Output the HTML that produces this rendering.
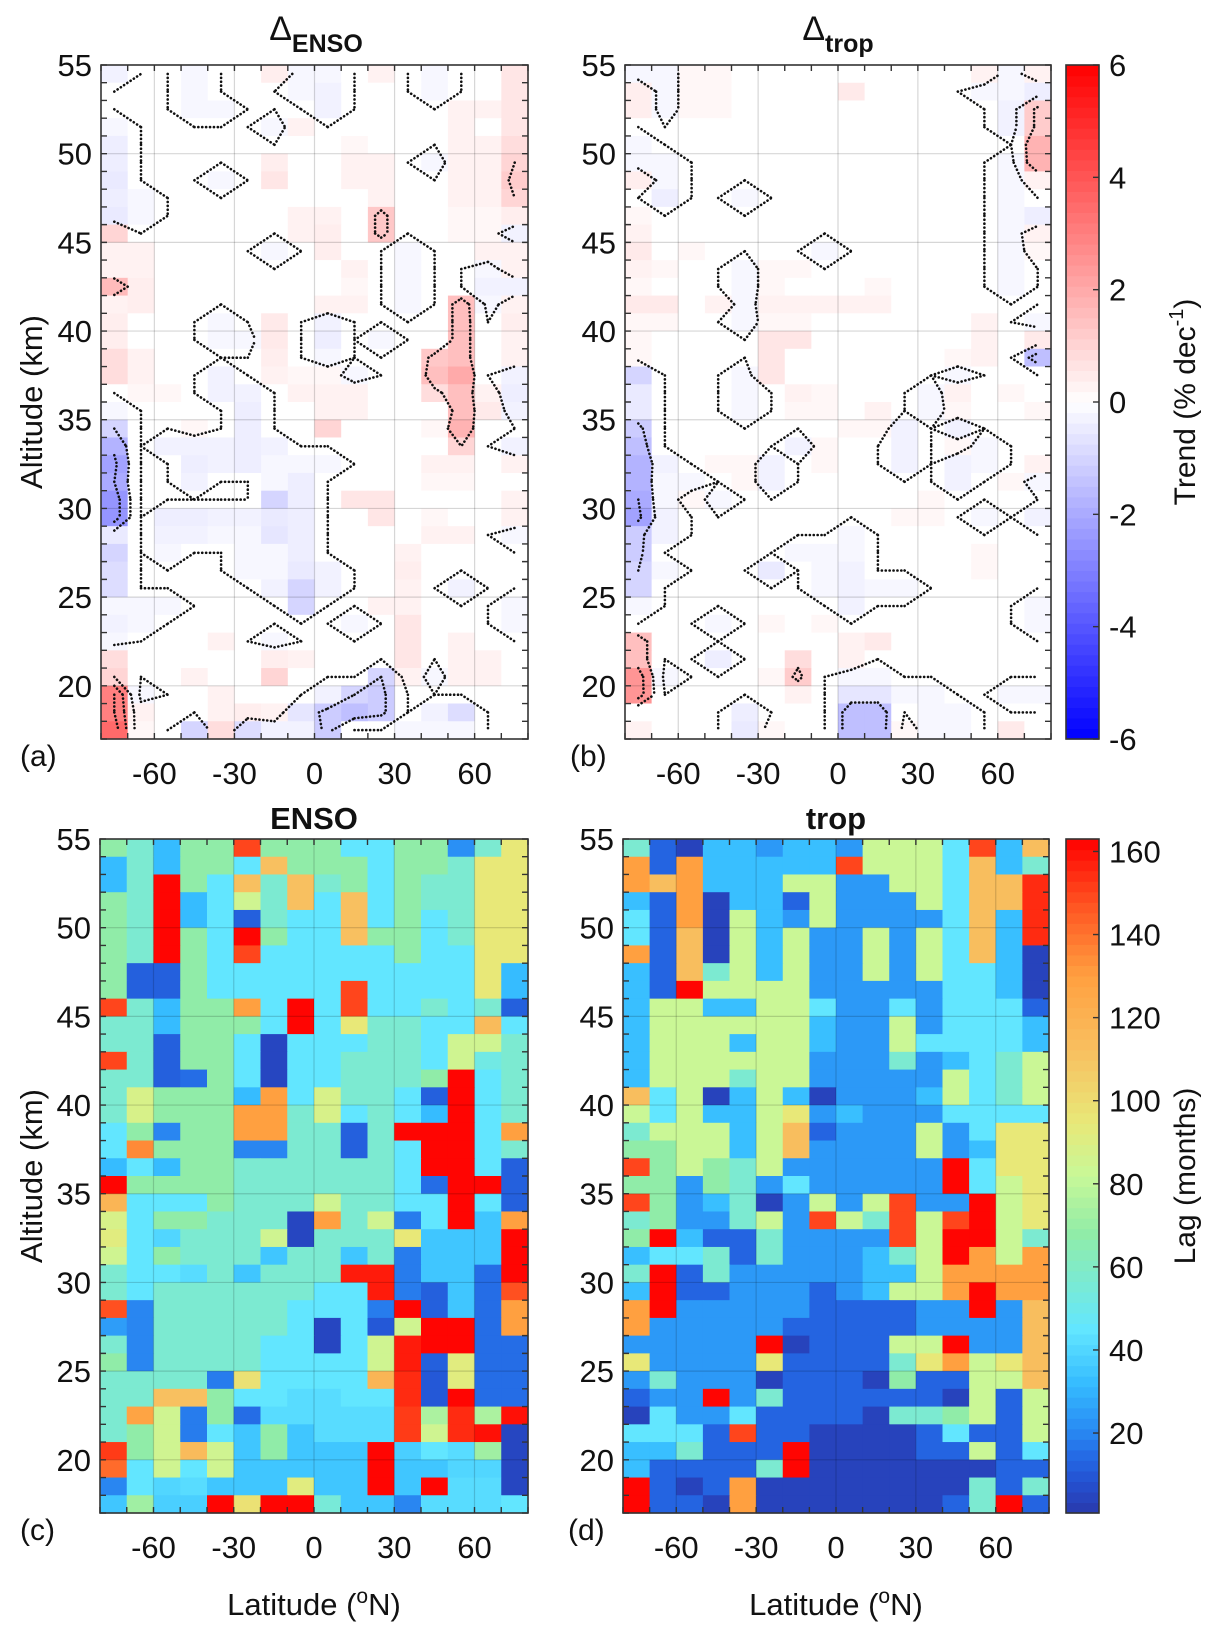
<!DOCTYPE html>
<html><head><meta charset="utf-8"><title>Trend and lag panels</title>
<style>
html,body{margin:0;padding:0;background:#fff;}
svg{display:block;font-family:"Liberation Sans",Arial,sans-serif;}
</style></head>
<body>
<svg id="fig" xmlns="http://www.w3.org/2000/svg" width="1221" height="1631" viewBox="0 0 1221 1631"></svg>
<script>
// ---- axis data ----
const latEdges = [-80,-70,-60,-50,-40,-30,-20,-10,0,10,20,30,40,50,60,70,80];
const altTop = 55, altBottom = 17;
const latTicks = [-60,-30,0,30,60];
const altTicks = [20,25,30,35,40,45,50,55];
const trendTicks = [-6,-4,-2,0,2,4,6];
const lagTicks = [20,40,60,80,100,120,140,160];
const contourLevels = [-2,-1,0,1,2,3];

// ---- Δ_ENSO trend (% dec^-1), rows from 55 km down to 17 km ----
const trendENSO = [
[-0.3,0,0,-0.2,0,0,0.4,-0.2,-0.2,0,0.3,0,-0.2,0,0,0.6],
[0,0,0,-0.2,0,0,0,-0.2,-0.3,0,0,0,-0.2,0,0,0.6],
[0,0,0,-0.2,-0.2,0,0,0,-0.3,0,0,0,0,0.3,0.3,0.6],
[-0.2,0,0,0,0,0,-0.2,0.3,0,0,0,0,0,0.3,0,0.6],
[-0.4,0,0,0,0,0,0,0,0,0.2,0,0,0,0.3,0.3,0.8],
[-0.4,0,0,0,0,0,0.4,0,0,0.3,0.3,0,-0.2,0.3,0.3,1.0],
[-0.5,0,0,0,-0.2,0,0.6,0,0,0.3,0.3,0,0,0.3,0.3,1.2],
[-0.4,-0.2,0,0,0,0,0,0,0,0,0.3,0,0,0.3,0.3,1.0],
[-0.5,-0.2,0,0,0,0,0,0.3,0.3,0,1.3,0,0,0.2,0.2,0.4],
[1.0,0,0,0,0,0,0,0.3,0.4,0,1.3,0,0,0.2,0.2,-0.3],
[0.3,0.3,0,0,0,0,-0.2,0,0.4,0,0,-0.2,0,0,0.3,0.3],
[0.3,0.3,0,0,0,0,0,0,0,0.3,0,-0.2,0,0,-0.2,0.3],
[1.6,0.4,0,0,0,0,0,0,0,0.2,0,-0.2,0,0,-0.3,-0.3],
[0.3,0.4,0,0,0,0,0,0,0.3,0.3,0,-0.2,0,1.5,-0.2,0.3],
[0.4,0,0,0,-0.2,0,0.5,0,-0.3,0,0,0,0,1.5,0,0.4],
[0.4,0,0,0,-0.2,-0.2,0.5,0,-0.4,0,-0.2,0,0,1.5,0,0.3],
[0.8,0.3,0,0,0,0,0.4,0,-0.2,0,0,0,1.3,1.5,0,0.3],
[0.8,0.3,0,0,-0.3,0,0.3,0.2,0.2,-0.2,0,0,1.5,2.0,0,-0.3],
[0,0.2,0.2,0,-0.3,-0.3,0,0.3,0.3,0.3,0,0,0.8,1.5,0.3,-0.4],
[-0.2,0,0,0,0,-0.4,0,0,0.3,0.3,0,0,0,1.5,0.5,-0.3],
[-1.0,0,0,0.2,0,-0.4,0,0,1.0,0,0,0,0.2,1.8,0,0],
[-1.8,0,-0.3,-0.3,-0.3,-0.4,-0.3,0,0,0,0,0,0,1.0,0,-0.3],
[-2.2,0,0,-0.4,-0.3,-0.4,-0.2,-0.2,-0.2,0,0,0,0.3,0.3,0,0.3],
[-2.0,0,0,-0.3,0,0,-0.2,-0.4,0,0,0,0,0.2,0.2,0,0],
[-2.5,0,0,0,0,0,-1.0,-0.4,0,0.6,0.6,0,0,0,0,0.3],
[-2.5,0,-0.4,-0.4,-0.3,-0.3,-0.5,-0.4,0,0,0.6,0,0.2,0,0,0.3],
[-0.5,0,-0.3,-0.3,-0.2,-0.2,-0.6,-0.4,0,0,0,0,0.3,0.3,0,-0.2],
[-1.0,0,-0.2,0,0,-0.2,-0.2,-0.4,0,0,0,0.3,0,0,0,0],
[-0.8,0,0,0,0,-0.2,-0.2,-0.5,-0.3,0,0,0.4,0,0,0,0],
[-0.8,0,0,0,0,0,-0.3,-1.0,-0.3,0,0,0.3,0,-0.3,0,0],
[-0.2,-0.2,-0.2,0,0,0,0,-1.0,0,0,0.3,0.3,0,0,0,-0.2],
[-0.3,-0.2,0,0,0,0,0,0,0,-0.2,0,0.6,0,0,0,-0.2],
[-0.2,0,0,0,0.3,0,-0.2,0,0,0,0,0.6,0,0.3,0,0],
[0.8,0,0,0,0,0,0.4,0.3,0,0,0,0.6,0,0.3,0.3,0],
[1.0,0,0,0.3,0,0,1.0,0,0,0,-1.0,0.3,-0.2,0.3,0.3,0],
[3.0,-0.2,0,0,0.3,0,0,0,-0.3,-1.0,-1.2,0,0,0,0,0],
[3.0,0.3,0,0,0.3,0.4,0.3,-0.6,-1.2,-1.5,-1.2,0,-0.3,-0.8,0,0],
[3.5,0.2,0,-1.0,0.8,-0.8,-0.3,-0.3,-1.2,0,0,-0.2,-0.2,-0.2,0,0]
];

// ---- Δ_trop trend ----
const trendTrop = [
[-0.2,-0.2,0.2,0.2,0,0,0,0,0,0,0,0,0,0.3,-0.2,0.3],
[0.4,-0.2,0.2,0.2,0,0,0,0,0.5,0,0,0,0,-0.2,-0.2,-0.4],
[0.4,-0.2,0.2,0.2,0,0,0,0,0,0,0,0,0,0,-0.3,1.2],
[0,0,0,0,0,0,0,0,0,0,0,0,0,0,-0.3,1.2],
[-0.2,0,0,0,0,0,0,0,0,0,0,0,0,0,0,1.8],
[-0.2,-0.2,0,0,0,0,0,0,0,0,0,0,0,0,-0.2,1.8],
[0.4,-0.2,0,0,0,0,0,0,0,0,0,0,0,0,-0.2,0.3],
[0,-0.4,0,0,-0.2,0,0,0,0,0,0,0,0,0,-0.2,0],
[0.2,0,0,0,0,0,0,0,0,0,0,0,0,0,-0.2,-0.4],
[0.3,0,0,0,0,0,0,0,0,0,0,0,0,0,-0.2,0.3],
[0.5,0,0.2,0,0,0,0,-0.2,0,0,0,0,0,0,-0.2,0.2],
[0.3,0.2,0,0,-0.2,0.2,0.2,0,0,0,0,0,0,0,-0.2,0],
[0.2,0,0,0,-0.2,0.2,0,0,0,0.2,0,0,0,0,-0.2,0],
[0.5,0.5,0,0.3,-0.2,0.3,0.3,0.3,0.3,0.3,0,0,0,0,0,0],
[0.2,0.2,0,0,-0.2,0.2,0.2,0,0,0,0,0,0,0.3,0,-0.2],
[0.2,0,0,0,0,0.6,0.6,0,0,0,0,0,0,0.3,0,0.5],
[0.2,0,0,0,0,0.6,0,0,0,0,0,0,0.2,0.3,0,-1.5],
[-1.0,0,0,0,-0.2,0.6,0,0,0,0,0,0,-0.2,0,0,0],
[-0.5,0,0,0,-0.2,0,0.3,0.2,0,0,0,-0.2,0.3,0,0.2,0],
[-0.5,0,0,0,-0.2,0,0.2,0.2,0,0.3,0,-0.2,0.2,0,0,0.2],
[-1.2,0,0,0,0,0,0,0,0.2,0.2,-0.3,0,-0.3,0,0,0],
[-1.5,0,0,0,0,0,-0.3,0.2,0,0,-0.3,0,0.2,-0.2,0,0],
[-1.8,-0.3,0,0.2,0.2,-0.3,0,0.2,0,0,-0.3,0,-0.3,-0.2,0,0.3],
[-1.8,-0.2,-0.2,0,0.2,-0.3,0,0,0,0,0,0,-0.3,0,0.2,-0.2],
[-2.0,-0.2,0.2,-0.2,0,0,0,0,0,0,0,0.2,0,0,0,0],
[-2.2,-0.3,0,0,0,0,0,0,0,0,0.2,0.2,0,-0.2,0,-0.3],
[-1.2,-0.3,0,0,0,0,0,0,-0.2,0,0,0,0,0,0,0],
[-1.2,0,0,0,0,0,-0.2,-0.2,-0.2,0,0,0,0,0.2,0,0],
[-1.0,-0.2,0,0,0,-0.5,0,-0.2,-0.3,0,0,0,0,0.2,0,0],
[-1.0,0,0,0,0,0,0,-0.2,-0.3,-0.2,-0.2,0,0,0,0,0],
[-0.2,0,0,0,0,0,0,0,-0.3,0,0,0,0,0,0,-0.2],
[0,0,0,-0.2,0,0.2,0,0.2,0,0,0,0,0,0,0,-0.2],
[1.5,0,0,0,0,0,0,0,0.3,0.5,0,0,0,0,0,0],
[1.5,0,0,-0.4,0,0,0.8,0,0.3,0,0,0,0,0,0,0],
[2.5,-0.2,0,0,0,0.2,1.2,0,-0.2,-0.2,0,0,0,0,0,0],
[2.5,0,0,0,0,0,0.3,0,-0.6,-0.6,-0.2,-0.2,0,0,-0.2,-0.2],
[0,0,0,0,-0.4,0,0,0,-1.5,-1.5,0,-0.2,-0.2,0,0,0],
[0.3,0,0,0,-0.5,0.2,0,0,-1.5,-1.5,0.2,-0.2,-0.2,0,0.5,0]
];

// ---- ENSO lag (months) ----
const lagENSO = [
[68,57,32,68,68,150,68,68,68,45,45,68,68,22,57,95],
[32,57,32,68,68,45,112,68,68,68,45,68,68,57,95,95],
[32,57,162,68,45,112,57,112,57,68,45,68,57,57,95,95],
[68,57,162,32,45,85,57,112,45,112,45,68,57,57,95,95],
[68,57,162,32,45,12,57,45,45,112,45,68,45,57,95,95],
[68,57,162,68,45,162,68,45,45,112,68,68,45,57,95,95],
[68,57,162,68,45,150,45,45,45,45,45,68,45,45,95,95],
[68,12,12,68,45,45,45,45,45,45,45,45,45,45,95,32],
[68,12,12,68,45,45,45,45,45,150,45,45,45,45,95,32],
[150,57,32,68,68,130,45,162,45,150,45,45,57,45,57,12],
[57,57,32,68,68,68,45,162,45,95,57,57,45,45,115,45],
[57,57,12,68,68,45,5,45,45,45,57,57,45,85,85,57],
[150,57,12,68,68,45,5,45,45,57,57,57,45,85,52,57],
[57,57,12,15,68,45,5,45,45,57,57,57,68,162,45,57],
[57,88,68,68,68,32,130,45,88,57,57,45,12,162,45,57],
[57,88,68,68,68,130,130,57,88,45,57,45,32,162,45,57],
[45,68,20,68,68,130,130,57,57,12,57,162,162,162,45,130],
[45,135,68,68,68,20,20,57,57,12,57,45,162,162,45,57],
[32,45,32,68,68,57,57,57,57,57,57,45,162,162,45,12],
[162,68,68,68,68,57,57,57,57,57,57,45,15,162,162,12],
[118,45,45,45,68,57,57,57,85,57,57,45,45,162,45,12],
[88,45,68,68,57,57,57,5,130,57,85,18,45,162,35,130],
[92,45,40,57,57,57,85,5,57,57,57,95,35,35,35,162],
[85,45,68,57,57,57,35,57,57,35,57,18,35,35,35,162],
[57,45,45,42,57,35,57,57,57,158,158,18,35,35,15,162],
[57,45,57,57,57,57,57,57,45,45,158,18,12,35,15,148],
[148,20,57,57,57,57,57,45,45,45,18,162,12,35,15,130],
[25,20,57,57,57,57,57,45,5,45,10,85,162,162,15,130],
[57,20,57,57,57,57,45,45,5,45,85,158,162,162,15,15],
[68,20,57,57,57,57,45,45,45,45,85,158,12,92,15,15],
[57,57,57,57,18,98,45,45,45,45,118,155,10,92,15,15],
[57,57,112,112,68,45,45,42,42,45,45,155,10,162,15,15],
[57,128,85,18,68,15,42,42,42,42,42,152,75,155,75,160],
[57,68,85,18,45,35,68,35,42,42,42,152,85,155,160,5],
[152,68,85,115,85,35,68,35,35,35,162,38,45,42,72,5],
[142,45,85,45,85,35,35,35,35,35,162,35,35,40,40,5],
[20,45,40,42,35,35,35,92,35,35,162,35,162,42,42,5],
[35,72,38,38,162,98,162,162,55,35,35,20,42,42,42,45]
];

// ---- trop lag (months) ----
const lagTrop = [
[57,13,4,33,33,24,33,33,24,83,83,83,45,150,33,113],
[130,13,130,33,33,33,33,33,150,83,83,83,45,113,33,57],
[130,113,130,33,33,33,83,83,24,24,83,83,45,113,113,155],
[33,13,130,4,33,33,13,83,24,24,24,83,45,113,113,155],
[45,13,130,4,83,33,24,83,24,24,24,24,45,113,33,155],
[45,13,113,4,83,33,83,24,24,83,24,83,45,113,33,155],
[130,13,113,4,83,33,83,24,24,83,24,83,45,113,33,4],
[33,13,113,57,83,33,83,24,24,83,24,83,45,45,33,4],
[33,13,162,83,83,83,83,24,24,24,24,24,45,45,33,4],
[33,83,83,33,33,83,83,45,24,24,45,24,45,45,45,13],
[33,83,83,83,83,83,83,33,24,24,83,24,45,45,45,33],
[33,83,83,83,33,83,83,33,24,24,83,45,45,45,45,33],
[33,83,83,83,83,83,83,24,24,24,57,24,33,45,57,83],
[33,83,83,83,57,83,83,24,24,24,24,24,83,45,57,83],
[113,45,83,4,33,83,33,4,24,24,24,33,83,45,57,83],
[83,45,83,33,33,83,95,24,33,24,24,24,45,45,45,45],
[57,83,83,83,33,83,113,13,24,24,24,83,24,45,95,95],
[68,68,83,83,33,83,113,24,24,24,24,83,24,33,95,95],
[150,68,83,68,57,83,24,24,24,24,24,24,162,45,95,95],
[68,68,24,68,57,24,45,24,24,24,24,24,162,45,83,95],
[150,68,24,33,57,4,24,83,24,83,150,24,24,162,83,95],
[57,68,24,24,57,83,24,150,83,57,150,83,150,162,83,95],
[68,162,33,13,13,57,24,24,24,24,150,83,162,162,83,57],
[33,45,45,57,13,57,24,24,24,33,57,83,162,130,83,130],
[57,162,13,57,24,24,24,24,24,33,33,83,130,130,130,130],
[33,162,13,13,24,24,24,13,24,33,83,83,130,162,130,130],
[130,162,24,24,24,24,24,13,13,13,13,24,24,162,24,113],
[130,24,24,24,24,24,13,13,13,13,13,24,24,24,24,113],
[24,24,24,24,24,162,4,13,13,13,83,83,162,24,24,113],
[95,24,24,24,24,95,13,13,13,13,57,95,130,83,95,113],
[24,57,24,24,24,4,13,13,13,4,68,13,13,83,83,113],
[13,24,24,162,24,57,13,13,13,13,13,13,4,83,13,83],
[4,45,24,24,45,13,13,13,13,4,57,57,68,83,13,83],
[45,45,45,13,150,13,13,4,4,4,4,13,45,13,13,83],
[33,33,57,13,13,13,162,4,4,4,4,13,13,83,13,45],
[33,13,13,13,13,57,162,4,4,4,4,4,4,4,13,13],
[162,13,4,13,130,4,4,4,4,4,4,4,4,57,13,57],
[162,13,13,4,130,4,4,4,4,4,4,4,13,57,162,13]
];

const NS = "http://www.w3.org/2000/svg";
const svg = document.getElementById("fig");
function mk(tag, attrs, parent) {
  const e = document.createElementNS(NS, tag);
  for (const k in attrs) e.setAttribute(k, attrs[k]);
  (parent || svg).appendChild(e);
  return e;
}

const lagStops = [[0,[42,54,168]],[8,[36,80,208]],[14,[36,104,228]],[22,[42,144,245]],[32,[54,188,255]],[45,[98,230,255]],[55,[120,234,216]],[68,[144,236,168]],[82,[200,248,152]],[95,[232,232,120]],[112,[248,192,96]],[130,[255,160,64]],[148,[255,80,32]],[163,[255,0,0]]];
function lagColor(v){
  if (v <= lagStops[0][0]) return "rgb("+lagStops[0][1].join(",")+")";
  for (let i=1;i<lagStops.length;i++){
    if (v <= lagStops[i][0]){
      const a=lagStops[i-1], b=lagStops[i], t=(v-a[0])/(b[0]-a[0]);
      return "rgb("+a[1].map((c,j)=>Math.round(c+(b[1][j]-c)*t)).join(",")+")";
    }
  }
  return "rgb(255,0,0)";
}
function trendColor(v){
  const t = Math.max(-1, Math.min(1, v/6));
  if (t >= 0) { const g = Math.round(255*(1-t)); return "rgb(255,"+g+","+g+")"; }
  const g = Math.round(255*(1+t)); return "rgb("+g+","+g+",255)";
}

function drawPanel(p){
  const g = mk("g", {});
  
  
  const xS = lat => p.x0 + (lat - latEdges[0])/(latEdges[latEdges.length-1]-latEdges[0])*(p.x1-p.x0);
  const yS = alt => p.y0 + (altTop - alt)/(altTop - altBottom)*(p.y1-p.y0);
  p.data.forEach((row, r) => {
    row.forEach((v, c) => {
      const x = xS(latEdges[c]), w = xS(latEdges[c+1]) - x;
      const y = yS(altTop - r), h = yS(altTop - r - 1) - y;
      const rect = mk("rect", {x:x, y:y, width:w+0.6, height:h+0.6, fill:p.cmap(v)}, g);
      
      
    });
  });
  latTicks.forEach(l => mk("line",{x1:xS(l),x2:xS(l),y1:p.y0,y2:p.y1,stroke:"rgba(0,0,0,0.16)","stroke-width":1.2},g));
  altTicks.filter(a=>a<55).forEach(a => mk("line",{x1:p.x0,x2:p.x1,y1:yS(a),y2:yS(a),stroke:"rgba(0,0,0,0.16)","stroke-width":1.2},g));
  if (p.contours) {
    const nR = p.data.length, nC = p.data[0].length;
    const cx = c => xS(latEdges[c]) + (xS(latEdges[c+1])-xS(latEdges[c]))/2;
    const cy = r => yS(altTop - r - 0.5);
    let d = "";
    contourLevels.forEach(L => {
      for (let r=0;r<nR-1;r++) for (let c=0;c<nC-1;c++){
        const v0=p.data[r][c], v1=p.data[r][c+1], v2=p.data[r+1][c+1], v3=p.data[r+1][c];
        const idx=(v0>=L?8:0)|(v1>=L?4:0)|(v2>=L?2:0)|(v3>=L?1:0);
        if (idx===0||idx===15) continue;
        const it=(a,b)=> (a===b)?0.5:(L-a)/(b-a);
        const T=[cx(c)+(cx(c+1)-cx(c))*it(v0,v1), cy(r)];
        const R=[cx(c+1), cy(r)+(cy(r+1)-cy(r))*it(v1,v2)];
        const B=[cx(c)+(cx(c+1)-cx(c))*it(v3,v2), cy(r+1)];
        const Lp=[cx(c), cy(r)+(cy(r+1)-cy(r))*it(v0,v3)];
        const segs={1:[[Lp,B]],2:[[B,R]],3:[[Lp,R]],4:[[T,R]],5:[[Lp,T],[B,R]],6:[[T,B]],7:[[Lp,T]],
          8:[[Lp,T]],9:[[T,B]],10:[[T,R],[Lp,B]],11:[[T,R]],12:[[Lp,R]],13:[[B,R]],14:[[Lp,B]]}[idx];
        segs.forEach(s=>{ d += "M"+s[0][0].toFixed(1)+","+s[0][1].toFixed(1)+"L"+s[1][0].toFixed(1)+","+s[1][1].toFixed(1); });
      }
    });
    const cp = mk("path",{d:d,fill:"none",stroke:"#111","stroke-width":2.6,"stroke-dasharray":"0.1 3.8","stroke-linecap":"round"},g);
    
    
  }
  mk("rect",{x:p.x0,y:p.y0,width:p.x1-p.x0,height:p.y1-p.y0,fill:"none",stroke:"#333","stroke-width":1.6},g);
  let td="";
  latEdges.forEach(l=>{const x=xS(l); td+="M"+x+","+p.y1+"v-6M"+x+","+p.y0+"v6";});
  for (let a=altBottom;a<=altTop;a++){const y=yS(a); td+="M"+p.x0+","+y+"h6M"+p.x1+","+y+"h-6";}
  mk("path",{d:td,stroke:"#333","stroke-width":1.4,fill:"none"},g);
  altTicks.forEach(a=>{
    const t=mk("text",{x:p.x0-9,y:yS(a)+11,"text-anchor":"end","font-size":31,fill:"#111"},g);
    t.textContent=a;
    
    
  });
  latTicks.forEach(l=>{
    const t=mk("text",{x:xS(l),y:p.y1+45,"text-anchor":"middle","font-size":31,fill:"#111"},g);
    t.textContent=l;
    
    
  });
  const lab=mk("text",{x:p.lx,y:p.y1+27,"font-size":30,fill:"#111"},g);
  lab.textContent=p.label;
  
  
}

function drawColorbar(cb){
  const g = mk("g",{});
  
  
  const yS = v => cb.y1 - (v-cb.vmin)/(cb.vmax-cb.vmin)*(cb.y1-cb.y0);
  const n = 64;
  for (let i=0;i<n;i++){
    const v0 = cb.vmin + (cb.vmax-cb.vmin)*i/n, v1 = cb.vmin + (cb.vmax-cb.vmin)*(i+1)/n;
    mk("rect",{x:cb.x0,y:yS(v1),width:cb.x1-cb.x0,height:yS(v0)-yS(v1)+0.6,fill:cb.cmap((v0+v1)/2)},g);
  }
  mk("rect",{x:cb.x0,y:cb.y0,width:cb.x1-cb.x0,height:cb.y1-cb.y0,fill:"none",stroke:"#333","stroke-width":1.6},g);
  cb.ticks.forEach(v=>{
    const y=yS(v);
    mk("line",{x1:cb.x1,x2:cb.x1-6,y1:y,y2:y,stroke:"#333","stroke-width":1.4},g);
    const t=mk("text",{x:cb.x1+10,y:y+11,"font-size":31,fill:"#111"},g);
    t.textContent=v;
    
    
  });
}

drawPanel({name:"panel-a-delta-enso",data:trendENSO,cmap:trendColor,contours:true,x0:101,x1:528,y0:65,y1:739,label:"(a)",lx:20});
drawPanel({name:"panel-b-delta-trop",data:trendTrop,cmap:trendColor,contours:true,x0:625,x1:1051,y0:65,y1:739,label:"(b)",lx:570});
drawPanel({name:"panel-c-enso-lag",data:lagENSO,cmap:lagColor,contours:false,x0:100,x1:528,y0:839,y1:1513,label:"(c)",lx:20});
drawPanel({name:"panel-d-trop-lag",data:lagTrop,cmap:lagColor,contours:false,x0:623,x1:1049,y0:839,y1:1513,label:"(d)",lx:568});
drawColorbar({name:"trend-colorbar",cmap:trendColor,vmin:-6,vmax:6,ticks:trendTicks,x0:1066,x1:1099,y0:65,y1:739});
drawColorbar({name:"lag-colorbar",cmap:lagColor,vmin:0.75,vmax:163,ticks:lagTicks,x0:1066,x1:1099,y0:839,y1:1513});
</script>
<svg style="position:absolute;left:0;top:0" width="1221" height="1631" xmlns="http://www.w3.org/2000/svg">
  <g font-family="Liberation Sans, Arial, sans-serif" fill="#111">
    <text x="316" y="40" text-anchor="middle" font-size="34">Δ<tspan font-size="25" font-weight="bold" dy="12">ENSO</tspan></text>
    <text x="838" y="40" text-anchor="middle" font-size="34">Δ<tspan font-size="25" font-weight="bold" dy="12">trop</tspan></text>
    <text x="314" y="829" text-anchor="middle" font-size="31" font-weight="bold">ENSO</text>
    <text x="836" y="829" text-anchor="middle" font-size="31" font-weight="bold">trop</text>
    <text transform="translate(42,402) rotate(-90)" text-anchor="middle" font-size="31">Altitude (km)</text>
    <text transform="translate(42,1176) rotate(-90)" text-anchor="middle" font-size="31">Altitude (km)</text>
    <text x="314" y="1615" text-anchor="middle" font-size="31">Latitude (<tspan font-size="21" dy="-12">o</tspan><tspan dy="12">N)</tspan></text>
    <text x="836" y="1615" text-anchor="middle" font-size="31">Latitude (<tspan font-size="21" dy="-12">o</tspan><tspan dy="12">N)</tspan></text>
    <text transform="translate(1195,402) rotate(-90)" text-anchor="middle" font-size="30">Trend (% dec<tspan font-size="20" dy="-12">-1</tspan><tspan dy="12">)</tspan></text>
    <text transform="translate(1195,1176) rotate(-90)" text-anchor="middle" font-size="30">Lag (months)</text>
  </g>
</svg>
</body></html>
